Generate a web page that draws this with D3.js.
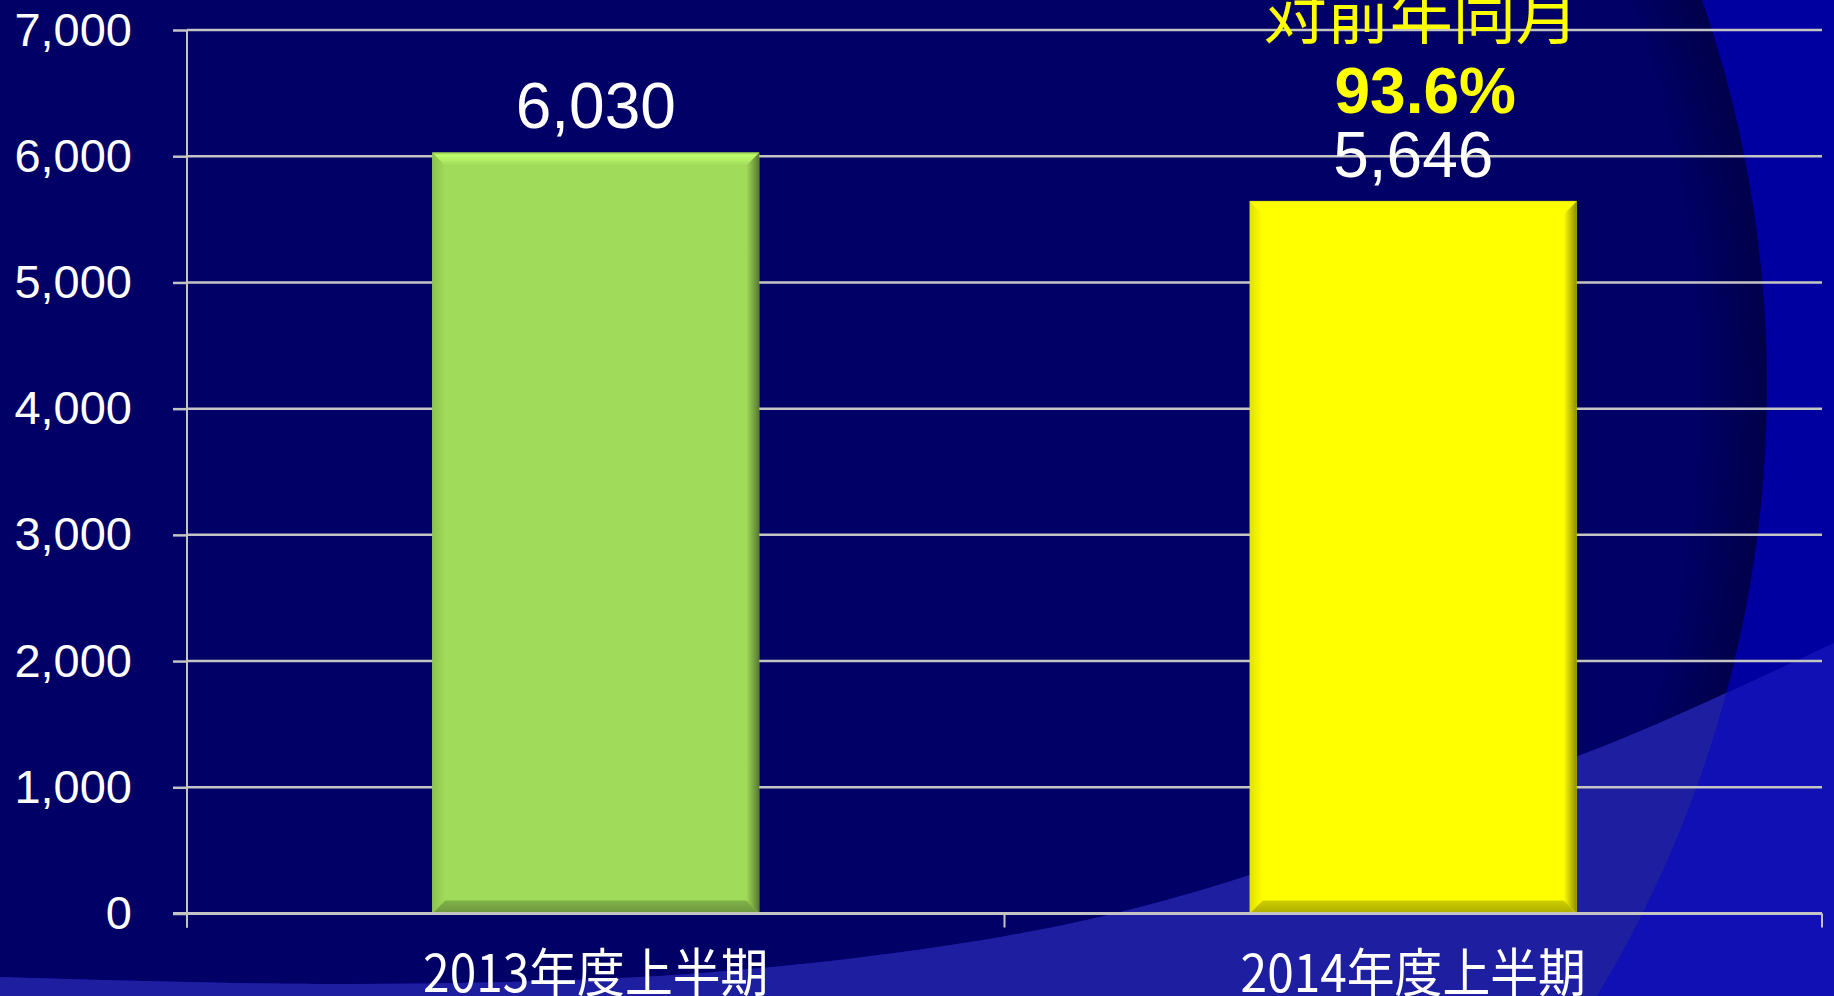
<!DOCTYPE html>
<html lang="ja">
<head>
    <meta charset="utf-8">
    <title>上半期 比較</title>
    <script src="https://d3js.org/d3.v7.min.js"></script>
    <style>
        body { margin: 0; background: #000066; overflow: hidden; }
        svg { display: block; }
    </style>
</head>
<body>
    <div class="chart"></div>
    <script>
        // chart data
        const categories = ["2013年度上半期", "2014年度上半期"];
        const values = [6030, 5646];
        const barColors = ["#a0dc5a", "#ffff00"];
        const yTicks = [0, 1000, 2000, 3000, 4000, 5000, 6000, 7000];
        const noteLines = ["対前年同月", "93.6%"];

        const W = 1834, H = 996;
        const margin = {top: 30, right: 12, bottom: 82.5, left: 187};

        const svg = d3.select(".chart").append("svg")
            .attr("width", W)
            .attr("height", H);
        const defs = svg.append("defs");

        // ---- background (slide decoration) ----
        svg.append("rect").attr("width", W).attr("height", H).attr("fill", "#0000a0");

        const circ = {cx: 588, cy: 386, r: 1179};
        const rg = defs.append("radialGradient").attr("id", "circShade")
            .attr("gradientUnits", "userSpaceOnUse")
            .attr("cx", circ.cx).attr("cy", circ.cy).attr("r", circ.r);
        rg.append("stop").attr("offset", 0.94).attr("stop-color", "#000066");
        rg.append("stop").attr("offset", 1).attr("stop-color", "#00004a");
        defs.append("clipPath").attr("id", "circClip")
            .append("circle").attr("cx", circ.cx).attr("cy", circ.cy).attr("r", circ.r);

        svg.append("circle")
            .attr("cx", circ.cx).attr("cy", circ.cy).attr("r", circ.r)
            .attr("fill", "url(#circShade)");

        const bandEdge = [[0, 977], [350, 984], [702, 973], [1006, 936], [1205, 889],
                          [1520, 778], [1650, 727], [1834, 643]];
        const bandPath = d3.line().curve(d3.curveCatmullRom)(bandEdge) + `L${W},${H}L0,${H}Z`;
        svg.append("path").attr("d", bandPath).attr("fill", "#1010b4");
        svg.append("path").attr("d", bandPath).attr("fill", "#1e1ea0")
            .attr("clip-path", "url(#circClip)");

        // ---- scales ----
        const x = d3.scaleBand()
            .domain(categories)
            .range([margin.left, W - margin.right])
            .paddingInner(0.6)
            .paddingOuter(0.3);
        const y = d3.scaleLinear()
            .domain([0, 7000])
            .range([H - margin.bottom, margin.top]);

        const grid = "#c4c4c4";

        // gridlines
        svg.append("g").selectAll("line")
            .data(yTicks.filter(d => d > 0))
            .join("line")
            .attr("x1", margin.left)
            .attr("x2", W - margin.right)
            .attr("y1", d => y(d))
            .attr("y2", d => y(d))
            .attr("stroke", grid)
            .attr("stroke-width", 2.5);

        // y axis
        const yAxis = svg.append("g")
            .attr("transform", `translate(${margin.left},0)`)
            .call(d3.axisLeft(y).tickValues(yTicks).tickFormat(d3.format(",")).tickSize(14).tickPadding(41));
        yAxis.select(".domain").remove();
        yAxis.selectAll(".tick line").attr("stroke", grid).attr("stroke-width", 2.5);
        yAxis.selectAll("text")
            .attr("fill", "#ffffff")
            .attr("font-family", "'Liberation Sans', Arial, sans-serif")
            .attr("font-size", 47);
        svg.append("line")
            .attr("x1", margin.left).attr("x2", margin.left)
            .attr("y1", y(7000)).attr("y2", y(0) + 14)
            .attr("stroke", grid).attr("stroke-width", 2);

        // ---- bars with bevel ----
        const bev = 13;
        const bars = svg.append("g");
        categories.forEach((c, i) => {
            const base = d3.rgb(barColors[i]);
            const x0 = x(c), x1 = x(c) + x.bandwidth();
            const y0 = y(values[i]), y1 = y(0);

            const gr = defs.append("linearGradient").attr("id", "right" + i)
                .attr("x1", 0).attr("x2", 1).attr("y1", 0).attr("y2", 0);
            gr.append("stop").attr("offset", 0).attr("stop-color", base.formatHex());
            gr.append("stop").attr("offset", 1).attr("stop-color", base.darker(1.7).formatHex());

            const gb = defs.append("linearGradient").attr("id", "bottom" + i)
                .attr("x1", 0).attr("x2", 0).attr("y1", 0).attr("y2", 1);
            gb.append("stop").attr("offset", 0).attr("stop-color", base.darker(0.6).formatHex());
            gb.append("stop").attr("offset", 1).attr("stop-color", base.darker(1.1).formatHex());

            const gt = defs.append("linearGradient").attr("id", "top" + i)
                .attr("x1", 0).attr("x2", 0).attr("y1", 0).attr("y2", 1);
            gt.append("stop").attr("offset", 0).attr("stop-color", base.darker(0.3).formatHex());
            gt.append("stop").attr("offset", 0.2).attr("stop-color", base.brighter(0.5).formatHex());
            gt.append("stop").attr("offset", 1).attr("stop-color", base.formatHex());

            const gl = defs.append("linearGradient").attr("id", "left" + i)
                .attr("x1", 0).attr("x2", 1).attr("y1", 0).attr("y2", 0);
            gl.append("stop").attr("offset", 0).attr("stop-color", base.darker(0.35).formatHex());
            gl.append("stop").attr("offset", 1).attr("stop-color", base.formatHex());

            const g = bars.append("g");
            g.append("rect")
                .attr("x", x0).attr("y", y0)
                .attr("width", x.bandwidth()).attr("height", y1 - y0)
                .attr("fill", base.formatHex());
            const poly = pts => pts.map(p => p.join(",")).join(" ");
            g.append("polygon").attr("points", poly([[x0, y0], [x0 + bev, y0 + bev], [x0 + bev, y1 - bev], [x0, y1]]))
                .attr("fill", `url(#left${i})`);
            g.append("polygon").attr("points", poly([[x1, y0], [x1 - bev, y0 + bev], [x1 - bev, y1 - bev], [x1, y1]]))
                .attr("fill", `url(#right${i})`);
            g.append("polygon").attr("points", poly([[x0, y1], [x0 + bev, y1 - bev], [x1 - bev, y1 - bev], [x1, y1]]))
                .attr("fill", `url(#bottom${i})`);
            g.append("polygon").attr("points", poly([[x0, y0], [x1, y0], [x1 - bev, y0 + bev], [x0 + bev, y0 + bev]]))
                .attr("fill", `url(#top${i})`);
        });

        // x axis line and boundary ticks
        svg.append("line")
            .attr("x1", margin.left - 14).attr("x2", W - margin.right)
            .attr("y1", y(0)).attr("y2", y(0))
            .attr("stroke", grid).attr("stroke-width", 3);
        const bounds = [x.range()[0]].concat(categories.map(c => x(c) + x.bandwidth() / 2 + x.step() / 2));
        svg.append("g").selectAll("line")
            .data(bounds)
            .join("line")
            .attr("x1", d => d).attr("x2", d => d)
            .attr("y1", y(0)).attr("y2", y(0) + 14)
            .attr("stroke", grid).attr("stroke-width", 2);

        const xAxis = svg.append("g")
            .attr("transform", `translate(0,${y(0)})`)
            .call(d3.axisBottom(x).tickSize(0));
        xAxis.select(".domain").remove();
        xAxis.selectAll("text")
            .attr("y", 0).attr("dy", 0)
            .attr("transform", "translate(0,78) scale(0.92,1)")
            .attr("fill", "#ffffff")
            .attr("font-family", "'Noto Sans CJK JP', sans-serif")
            .attr("font-size", 52);

        // value labels
        svg.append("g").selectAll("text")
            .data(values)
            .join("text")
            .attr("x", (d, i) => x(categories[i]) + x.bandwidth() / 2)
            .attr("y", d => y(d) - 24)
            .attr("text-anchor", "middle")
            .attr("fill", "#ffffff")
            .attr("font-family", "'Liberation Sans', Arial, sans-serif")
            .attr("font-size", 64)
            .text(d3.format(","));

        // year-on-year note above second bar
        const noteX = x(categories[1]) + x.bandwidth() / 2 + 8;
        const noteY = y(values[1]);
        svg.append("text")
            .attr("x", noteX).attr("y", noteY - 163)
            .attr("text-anchor", "middle")
            .attr("fill", "#ffff00")
            .attr("font-family", "'Noto Sans CJK JP', sans-serif")
            .attr("font-size", 63)
            .text(noteLines[0]);
        svg.append("text")
            .attr("x", noteX + 4).attr("y", noteY - 88)
            .attr("text-anchor", "middle")
            .attr("fill", "#ffff00")
            .attr("font-family", "'Liberation Sans', Arial, sans-serif")
            .attr("font-weight", "bold")
            .attr("font-size", 64)
            .text(noteLines[1]);
    </script>
</body>
</html>
